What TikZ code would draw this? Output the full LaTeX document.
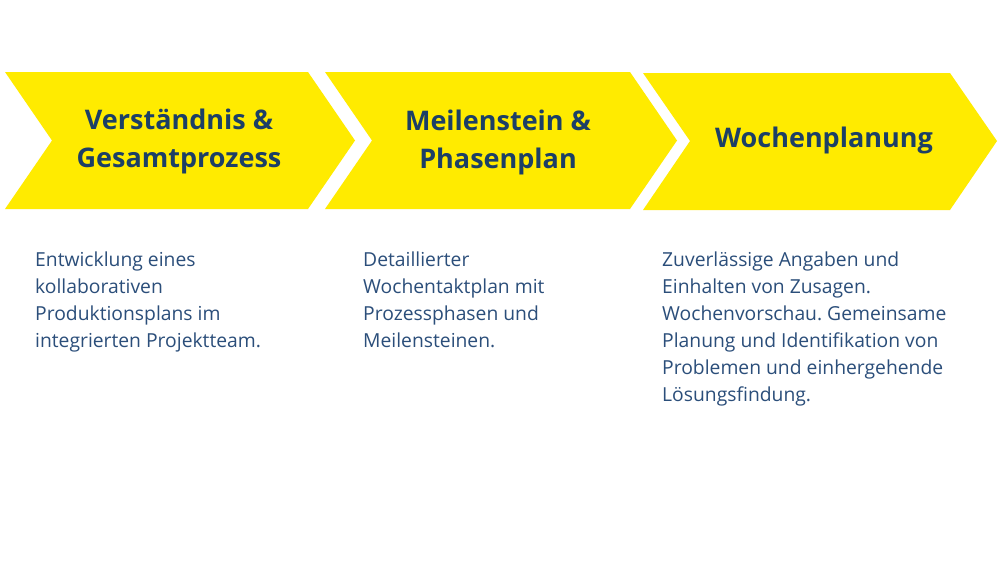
\documentclass[tikz,border=0pt]{standalone}
\usepackage{fontspec}
\setmainfont{Open Sans}
\frenchspacing
\definecolor{chevyellow}{HTML}{FFEB00}
\definecolor{headblue}{HTML}{1C3F66}
\definecolor{bodyblue}{HTML}{2B4E7A}
\tikzset{
  chev/.style={fill=chevyellow, draw=none},
  head/.style={text=headblue, font=\fontsize{27}{38}\selectfont\bfseries, align=center, inner sep=0pt, anchor=base},
  body/.style={text=bodyblue, font=\fontsize{19.3}{27}\selectfont\frenchspacing, align=left, inner sep=0pt, anchor=base west}
}
\begin{document}
\begin{tikzpicture}[x=1pt,y=-1pt]
\useasboundingbox (0,0) rectangle (1000,563);
\fill[white] (0,0) rectangle (1000,563);
% chevrons
\path[chev] (5,72) -- (308,72) -- (355,140.5) -- (308,209) -- (5,209) -- (52,140.5) -- cycle;
\path[chev] (325,72) -- (630,72) -- (677,140.5) -- (630,209) -- (325,209) -- (372,140.5) -- cycle;
\path[chev] (643,73) -- (950,73) -- (997,141) -- (950,210) -- (643,210) -- (690,141) -- cycle;
% headings (anchor base = baseline of last line)
\node[head] (h1) at (179,167) {Verständnis \&\\Gesamtprozess};
\node[head] (h2) at (498,168) {Meilenstein \&\\Phasenplan};
\node[head] (h3) at (824,147) {Wochenplanung};
% body texts (anchor base west = baseline of last line)
\node[body] (b1) at (35,347) {Entwicklung eines\\kollaborativen\\Produktionsplans im\\integrierten Projektteam.};
\node[body] (b2) at (363,347) {Detaillierter\\Wochentaktplan mit\\Prozessphasen und\\Meilensteinen.};
\node[body] (b3) at (662,401) {Zuverlässige Angaben und\\Einhalten von Zusagen.\\Wochenvorschau. Gemeinsame\\Planung und Identifikation von\\Problemen und einhergehende\\Lösungsfindung.};
\end{tikzpicture}
\end{document}
